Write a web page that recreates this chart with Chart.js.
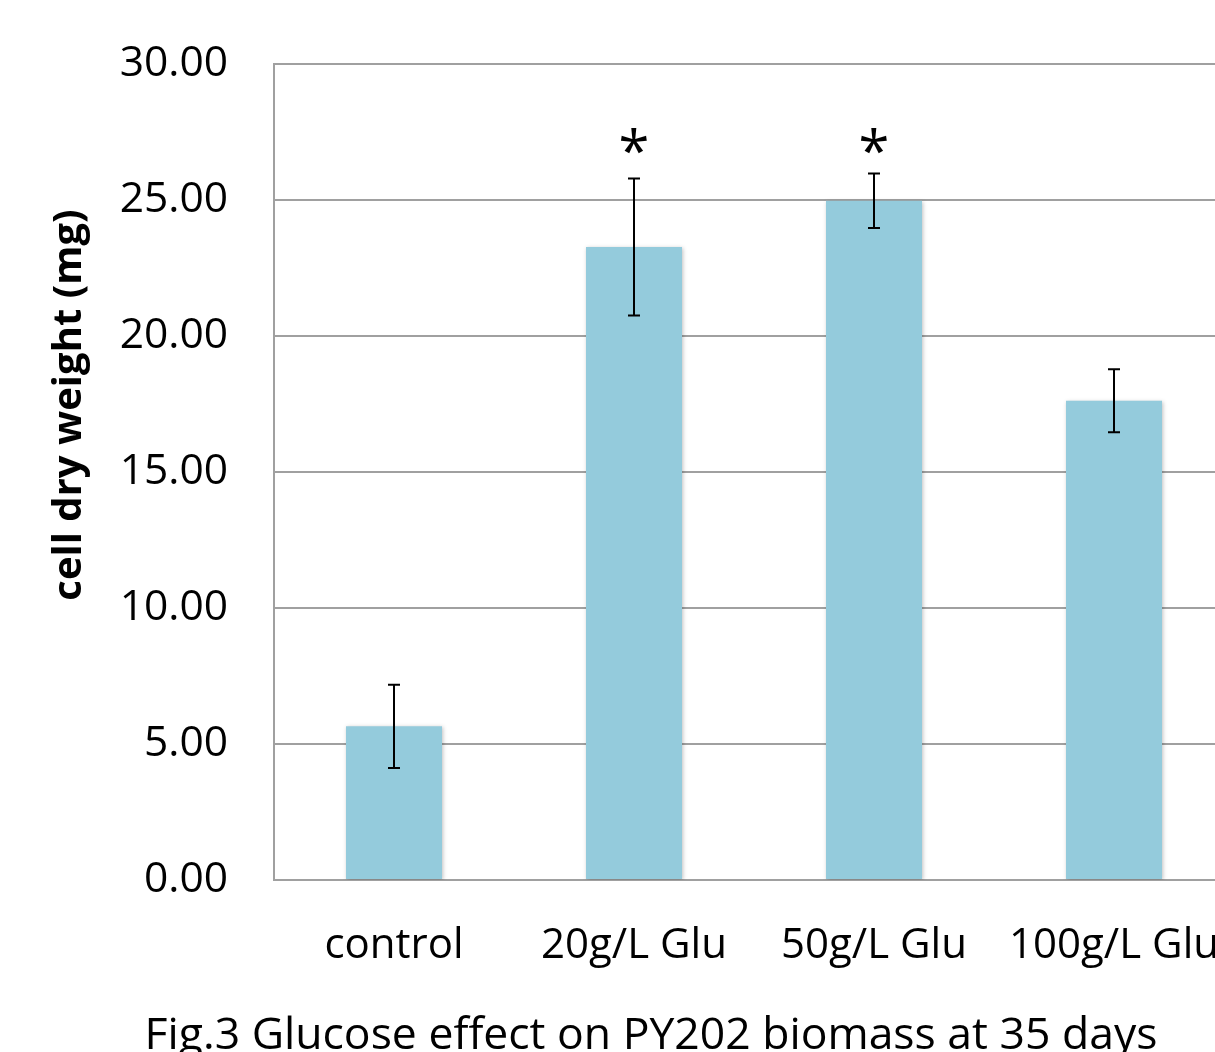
<!DOCTYPE html>
<html lang="en">
<head>
    <meta charset="UTF-8">
    <title>Glucose effect on PY202 biomass</title>
    <script src="https://cdn.jsdelivr.net/npm/chart.js"></script>
    <style>
        html, body { margin: 0; padding: 0; background: #fff; overflow: hidden; }
        .graph-container { position: relative; width: 1240px; height: 1063px; }
    </style>
</head>
<body>
    <div class="graph-container">
        <canvas id="graficoBiomassa"></canvas>
    </div>
<script>
    // dados
    const categorias = ['control', '20g/L Glu', '50g/L Glu', '100g/L Glu']
    const pesoSeco = [5.65, 23.27, 24.97, 17.62]
    const erroPadrao = [1.53, 2.52, 1.00, 1.16]
    const asteriscos = ['', '*', '*', '']
    const nivelAsterisco = 27.1
    const ticksY = [0, 5, 10, 15, 20, 25, 30]
    const legenda = 'Fig.3 Glucose effect on PY202 biomass at 35 days'

    const fonte = "'Open Sans', 'Noto Sans', sans-serif"

    // barras de erro, asteriscos, título do eixo e legenda da figura
    const pluginErro = {
        id: 'barrasErro',
        beforeDatasetsDraw(chart) {
            const ctx = chart.ctx
            ctx.save()
            ctx.shadowColor = 'rgba(0,0,0,0.25)'
            ctx.shadowBlur = 4
            ctx.shadowOffsetX = 1
            ctx.shadowOffsetY = 1
        },
        afterDatasetsDraw(chart) {
            const ctx = chart.ctx
            ctx.restore()
            const meta = chart.getDatasetMeta(0)
            const y = chart.scales.y
            ctx.save()
            ctx.strokeStyle = '#000'
            ctx.lineWidth = 2
            for (let i = 0; i < pesoSeco.length; i++) {
                const x = meta.data[i].x
                const topo = y.getPixelForValue(pesoSeco[i] + erroPadrao[i])
                const base = y.getPixelForValue(pesoSeco[i] - erroPadrao[i])
                ctx.beginPath()
                ctx.moveTo(x, topo); ctx.lineTo(x, base)
                ctx.moveTo(x - 6, topo); ctx.lineTo(x + 6, topo)
                ctx.moveTo(x - 6, base); ctx.lineTo(x + 6, base)
                ctx.stroke()
                if (asteriscos[i]) {
                    ctx.fillStyle = '#000'
                    ctx.font = '56px ' + fonte
                    ctx.textAlign = 'center'
                    ctx.textBaseline = 'middle'
                    ctx.fillText(asteriscos[i], x, y.getPixelForValue(nivelAsterisco) + 12)
                }
            }
            ctx.restore()
        },
        afterDraw(chart) {
            const ctx = chart.ctx
            ctx.save()
            ctx.fillStyle = '#000'
            ctx.textAlign = 'center'
            ctx.textBaseline = 'middle'
            ctx.font = '44.5px ' + fonte
            ctx.fillText(legenda, 651, 1036)
            ctx.translate(70, 405)
            ctx.rotate(-Math.PI / 2)
            ctx.font = 'bold 40px ' + fonte
            ctx.fillText('cell dry weight (mg)', 0, 0)
            ctx.restore()
        }
    }

    const dados = {
        labels: categorias,
        datasets: [{
            data: pesoSeco,
            backgroundColor: '#94cbdc',
            borderWidth: 0,
            categoryPercentage: 1,
            barPercentage: 0.4
        }]
    }

    const opcoes = {
        responsive: true,
        maintainAspectRatio: false,
        animation: false,
        layout: {
            padding: { top: 64, left: 0, right: 6, bottom: 0 }
        },
        plugins: {
            legend: { display: false },
            tooltip: { enabled: false },
            title: { display: false }
        },
        scales: {
            x: {
                grid: { display: false },
                border: { display: false },
                ticks: {
                    color: '#000',
                    padding: 33,
                    font: { family: fonte, size: 42 }
                },
                afterFit(scale) {
                    scale.height = 183
                    scale.paddingLeft = 0
                    scale.paddingRight = 0
                }
            },
            y: {
                min: 0,
                max: 30,
                afterBuildTicks(scale) {
                    scale.ticks = ticksY.map(v => ({ value: v }))
                },
                grid: {
                    color: '#a0a0a0',
                    lineWidth: 2,
                    drawTicks: false
                },
                border: { display: true, color: '#a0a0a0', width: 2 },
                ticks: {
                    color: '#000',
                    padding: 46,
                    font: { family: fonte, size: 42.5 },
                    callback: v => Number(v).toFixed(2)
                },
                afterFit(scale) {
                    scale.width = 274
                    scale.paddingTop = 0
                    scale.paddingBottom = 0
                }
            }
        }
    }

    new Chart(document.getElementById('graficoBiomassa'), {
        type: 'bar',
        data: dados,
        options: opcoes,
        plugins: [pluginErro]
    })
</script>
</body>
</html>
